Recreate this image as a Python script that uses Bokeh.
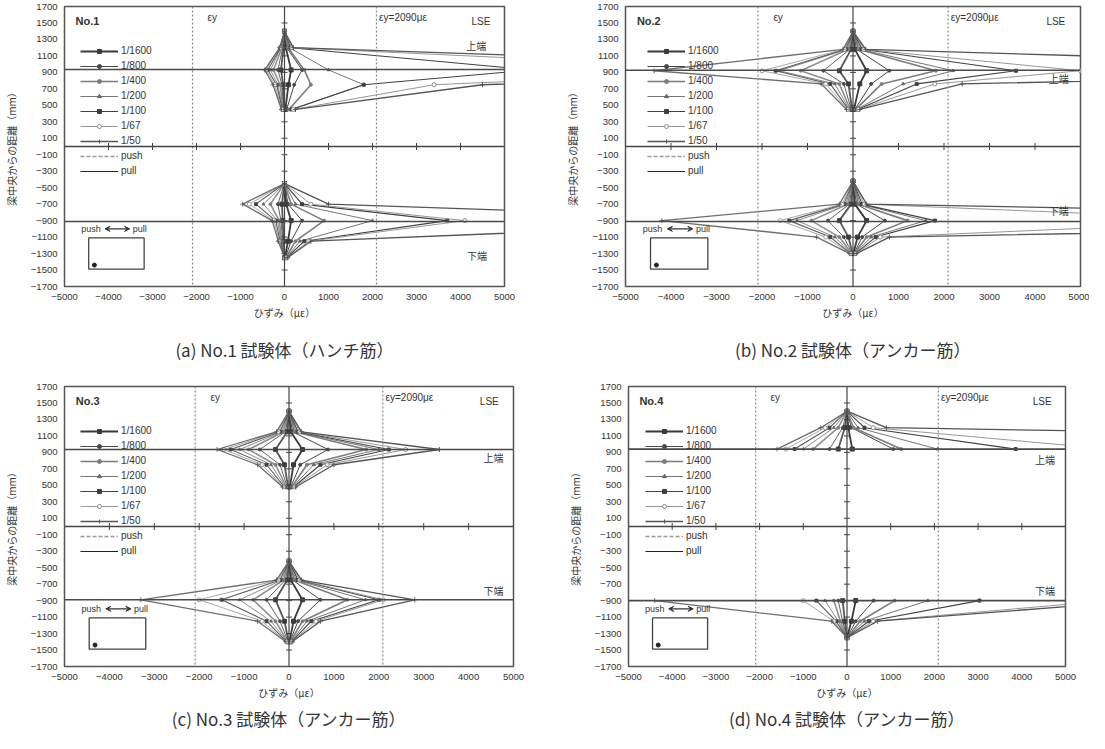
from bokeh.plotting import figure
from bokeh.layouts import column, row
from bokeh.models import Span, Label, Legend, LegendItem, Arrow, VeeHead
from bokeh.embed import file_html
from bokeh.resources import INLINE
import math

# ---------------- data ----------------
drifts = ["1/1600", "1/800", "1/400", "1/200", "1/100", "1/67", "1/50"]
x_ticks = list(range(-5000, 5001, 1000))
y_ticks = list(range(-1700, 1701, 200))
ey = 2090

# Panel (a) No.1 (hunch bars)
a_top_y = [1400, 1200, 930, 750, 450]
a_top_pull = [[0, 30, 150, 90, 20], [0, 50, 400, 220, 50], [0, 80, 450, 600, 100],
              [0, 110, 1000, 1800, 160], [0, 140, 5600, 1800, 160],
              [0, 170, 11000, 3400, 200], [0, 200, 15000, 4500, 250]]
a_top_push = [[0, -20, -80, -30, -10], [0, -40, -150, -60, -20], [0, -60, -250, -100, -30],
              [0, -80, -320, -150, -40], [0, -90, -380, -180, -50],
              [0, -100, -420, -220, -60], [0, -110, -450, -260, -70]]
a_bot_y = [-450, -700, -900, -1150, -1350]
a_bot_pull = [[0, 40, 150, 80, 10], [0, 80, 400, 150, 20], [0, 150, 900, 250, 30],
              [0, 250, 2000, 350, 40], [0, 400, 3700, 450, 50],
              [0, 600, 4100, 550, 60], [0, 1000, 12000, 600, 70]]
a_bot_push = [[0, -60, -40, -20, 0], [0, -150, -80, -40, 0], [0, -320, -120, -60, 0],
              [0, -480, -160, -80, 0], [0, -650, -200, -100, 0],
              [0, -800, -240, -120, 0], [0, -950, -280, -140, 0]]

# Panel (b) No.2 (anchor bars)
b_top_y = [1400, 1180, 920, 760, 450]
b_top_pull = [[0, 40, 300, 150, 20], [0, 80, 800, 400, 40], [0, 120, 1820, 630, 60],
              [0, 160, 2200, 1100, 80], [0, 200, 3580, 1400, 100],
              [0, 240, 5000, 1800, 120], [0, 280, 16000, 2400, 150]]
b_top_push = [[0, -40, -300, -100, -20], [0, -70, -650, -200, -40], [0, -100, -1150, -300, -60],
              [0, -130, -1620, -400, -80], [0, -160, -1700, -500, -100],
              [0, -190, -2000, -600, -120], [0, -220, -4370, -700, -140]]
b_bot_y = [-420, -700, -900, -1100, -1300]
b_bot_pull = [[0, 40, 300, 100, 10], [0, 80, 700, 200, 20], [0, 120, 1200, 300, 30],
              [0, 160, 1600, 400, 40], [0, 200, 1800, 500, 50],
              [0, 250, 9000, 600, 60], [0, 300, 20000, 800, 70]]
b_bot_push = [[0, -40, -300, -100, -10], [0, -80, -550, -200, -20], [0, -120, -915, -300, -30],
              [0, -160, -1230, -400, -40], [0, -200, -1400, -500, -50],
              [0, -240, -1600, -600, -60], [0, -300, -4200, -800, -70]]

# Panel (c) No.3 (anchor bars)
c_top_y = [1400, 1150, 935, 750, 480]
c_top_pull = [[0, 40, 300, 100, 20], [0, 80, 870, 250, 40], [0, 120, 1720, 400, 60],
              [0, 160, 2000, 550, 80], [0, 200, 2220, 700, 100],
              [0, 240, 2600, 850, 120], [0, 280, 3350, 1000, 150]]
c_top_push = [[0, -40, -300, -100, -20], [0, -80, -650, -200, -40], [0, -120, -900, -300, -60],
              [0, -160, -1100, -400, -80], [0, -200, -1300, -500, -100],
              [0, -240, -1450, -600, -120], [0, -280, -1600, -700, -140]]
c_bot_y = [-420, -650, -890, -1150, -1400]
c_bot_pull = [[0, 40, 300, 100, 10], [0, 80, 700, 200, 20], [0, 120, 1300, 300, 30],
              [0, 160, 1700, 400, 40], [0, 200, 2000, 500, 50],
              [0, 240, 2100, 600, 60], [0, 280, 2800, 700, 70]]
c_bot_push = [[0, -40, -300, -100, -10], [0, -80, -500, -200, -20], [0, -120, -800, -300, -30],
              [0, -160, -1100, -400, -40], [0, -200, -1500, -500, -50],
              [0, -240, -2000, -600, -60], [0, -280, -3300, -700, -70]]

# Panel (d) No.4 (anchor bars)
d_top_y = [1400, 1200, 940]
d_top_pull = [[0, 30, 120], [0, 100, 1060], [0, 150, 1240], [0, 250, 2070],
              [0, 400, 3860], [0, 600, 6000], [0, 900, 30000]]
d_top_push = [[0, -50, -200], [0, -100, -400], [0, -200, -775], [0, -300, -1000],
              [0, -400, -1200], [0, -500, -1400], [0, -600, -1600]]
d_bot_y = [-900, -1150, -1350]
d_bot_pull = [[200, 100, 0], [610, 200, 0], [1090, 300, 0], [1850, 400, 0],
              [3030, 500, 0], [6000, 600, 0], [6800, 700, 0]]
d_bot_push = [[-100, -50, 0], [-200, -100, 0], [-300, -150, 0], [-500, -200, 0],
              [-700, -250, 0], [-1000, -300, 0], [-4400, -350, 0]]

# ---------------- styles ----------------
m_types = ["square", "circle", "circle", "triangle", "square", "circle", "cross"]
m_sizes = [4, 3, 3, 3, 3, 4, 5]
l_colors = ["#3a3a3a", "#474747", "#7c7c7c", "#666666", "#404040", "#8c8c8c", "#555555"]
l_widths = [1.8, 1.0, 1.6, 0.9, 1.1, 0.9, 1.3]
m_fills = ["#3a3a3a", "#474747", "#7c7c7c", "#666666", "#404040", "white", "#555555"]

TICK_FONT = "Liberation Sans"
JP_FONT = "Noto Sans CJK JP"


def make_panel(tag, caption, groups, refs, up_lbl, lo_lbl, W, H, bl, br, bb, leg_x, cap_standoff):
    p = figure(width=W, height=H, x_range=(-5000, 5000), y_range=(-1700, 1700),
               output_backend="svg", toolbar_location=None,
               min_border_left=bl, min_border_right=br, min_border_top=6, min_border_bottom=bb,
               title=caption, title_location="below")
    p.title.align = "center"
    p.title.text_font = JP_FONT
    p.title.text_font_size = "17px"
    p.title.text_font_style = "normal"
    p.title.text_color = "#333333"
    p.title.standoff = cap_standoff
    p.outline_line_color = "#555555"
    p.outline_line_width = 1.5
    p.xgrid.visible = False
    p.ygrid.visible = False
    p.background_fill_color = "white"
    p.border_fill_color = "white"

    p.xaxis.ticker = x_ticks
    p.yaxis.ticker = y_ticks
    for ax in (p.xaxis, p.yaxis):
        ax.axis_line_color = None
        ax.major_tick_line_color = None
        ax.minor_tick_line_color = None
        ax.major_tick_out = 0
        ax.major_tick_in = 0
        ax.minor_tick_out = 0
        ax.minor_tick_in = 0
        ax.major_label_text_font = TICK_FONT
        ax.major_label_text_font_size = "9.5px"
        ax.major_label_text_color = "#333333"
        ax.major_label_standoff = 7
        ax.axis_label_text_font = JP_FONT
        ax.axis_label_text_font_size = "10px"
        ax.axis_label_text_font_style = "normal"
        ax.axis_label_text_color = "#333333"
    p.xaxis.axis_label = "ひずみ（με）"
    p.yaxis.axis_label = "梁中央からの距離（mm）"
    p.xaxis.axis_label_standoff = 2
    p.yaxis.axis_label_standoff = 9

    # reference lines
    for xv in (-ey, ey):
        p.add_layout(Span(location=xv, dimension="height", line_color="#8a8a8a",
                          line_width=1.2, line_dash="2 2"))
    p.add_layout(Span(location=0, dimension="height", line_color="#444444", line_width=1.2))
    p.add_layout(Span(location=0, dimension="width", line_color="#444444", line_width=1.3))
    for yv in refs:
        p.add_layout(Span(location=yv, dimension="width", line_color="#4a4a4a", line_width=1.6))
    xt = [v for v in x_ticks if v != 0 and abs(v) < 5000]
    p.scatter(x=xt, y=[0] * len(xt), marker="dash", angle=math.pi / 2, size=7,
              line_color="#444444", line_width=1)
    yt = [v for v in y_ticks if abs(v) < 1700]
    p.scatter(x=[0] * len(yt), y=yt, marker="dash", size=6, line_color="#444444", line_width=1)

    # strain distributions
    leg_items = []
    for i, d in enumerate(drifts):
        rs = []
        for ys, pull, push in groups:
            for vals, alpha in ((pull[i], 1.0), (push[i], 0.85)):
                lr = p.line(vals, ys, line_color=l_colors[i], line_width=l_widths[i], line_alpha=alpha)
                sr = p.scatter(vals, ys, marker=m_types[i], size=m_sizes[i],
                               line_color=l_colors[i], fill_color=m_fills[i], line_alpha=alpha)
                if not rs:
                    rs = [lr, sr]
        leg_items.append(LegendItem(label=d, renderers=rs))
    far = [9.0e6, 9.1e6]
    r_push = p.line(far, far, line_color="#9a9a9a", line_width=1.5, line_dash="4 2")
    r_pull = p.line(far, far, line_color="#222222", line_width=1.2)
    leg_items.append(LegendItem(label="push", renderers=[r_push]))
    leg_items.append(LegendItem(label="pull", renderers=[r_pull]))
    legend = Legend(items=leg_items, location=(leg_x, 108), glyph_width=38, glyph_height=10,
                    label_height=15, spacing=0, padding=2, margin=0, label_standoff=3,
                    border_line_color=None, background_fill_alpha=0,
                    label_text_font=TICK_FONT, label_text_font_size="10px",
                    label_text_color="#333333")
    p.add_layout(legend)

    # texts
    p.add_layout(Label(x=-4750, y=1520, text=tag, text_font=TICK_FONT, text_font_size="11px",
                       text_font_style="bold", text_color="#333333", text_baseline="middle"))
    p.add_layout(Label(x=-1750, y=1565, text="εy", text_font=TICK_FONT, text_font_size="10px",
                       text_color="#333333", text_baseline="middle"))
    p.add_layout(Label(x=2150, y=1565, text="εy=2090με", text_font=TICK_FONT,
                       text_font_size="10px", text_color="#333333", text_baseline="middle"))
    p.add_layout(Label(x=4250, y=1520, text="LSE", text_font=TICK_FONT, text_font_size="10px",
                       text_color="#333333", text_baseline="middle"))
    p.add_layout(Label(x=up_lbl[0], y=up_lbl[1], text="上端", text_font=JP_FONT,
                       text_font_size="10px", text_color="#333333", text_baseline="middle"))
    p.add_layout(Label(x=lo_lbl[0], y=lo_lbl[1], text="下端", text_font=JP_FONT,
                       text_font_size="10px", text_color="#333333", text_baseline="middle"))

    # push / pull inset
    p.add_layout(Label(x=-4620, y=-1000, text="push", text_font=TICK_FONT, text_font_size="9px",
                       text_color="#333333", text_baseline="middle"))
    p.add_layout(Label(x=-3450, y=-1000, text="pull", text_font=TICK_FONT, text_font_size="9px",
                       text_color="#333333", text_baseline="middle"))
    p.add_layout(Arrow(start=VeeHead(size=5, line_color="#333333", fill_color="#333333"),
                       end=VeeHead(size=5, line_color="#333333", fill_color="#333333"),
                       x_start=-4080, y_start=-1000, x_end=-3520, y_end=-1000,
                       line_color="#333333", line_width=1.2))
    p.quad(left=[-4450], right=[-3190], top=[-1110], bottom=[-1490], fill_color=None,
           line_color="#444444", line_width=1.3)
    p.scatter(x=[-4320], y=[-1440], marker="circle", size=4, fill_color="#222222",
              line_color="#222222")
    return p


pa = make_panel("No.1", "(a) No.1 試験体（ハンチ筋）",
                [(a_top_y, a_top_pull, a_top_push), (a_bot_y, a_bot_pull, a_bot_push)],
                (935, -910), (4130, 1230), (4150, -1320), 561, 380, 54, 57, 94, 16, 24)
pb = make_panel("No.2", "(b) No.2 試験体（アンカー筋）",
                [(b_top_y, b_top_pull, b_top_push), (b_bot_y, b_bot_pull, b_bot_push)],
                (925, -910), (4300, 830), (4300, -776), 528, 380, 54, 9, 94, 22, 24)
pc = make_panel("No.3", "(c) No.3 試験体（アンカー筋）",
                [(c_top_y, c_top_pull, c_top_push), (c_bot_y, c_bot_pull, c_bot_push)],
                (935, -890), (4330, 838), (4330, -776), 564, 353, 54, 51, 67, 16, 3)
pd = make_panel("No.4", "(d) No.4 試験体（アンカー筋）",
                [(d_top_y, d_top_pull, d_top_push), (d_bot_y, d_bot_pull, d_bot_push)],
                (940, -900), (4300, 814), (4300, -776), 525, 353, 54, 24, 67, 17, 3)

layout = column(row(pa, pb), row(pc, pd))
open("out.html", "w").write(file_html(layout, INLINE))
